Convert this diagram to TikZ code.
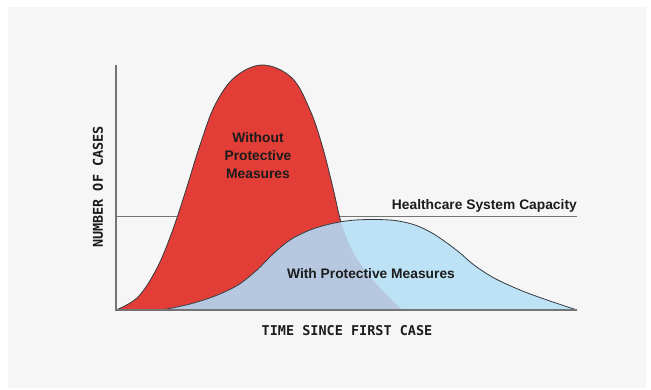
\documentclass[tikz,border=0pt]{standalone}
\usepackage{fontspec}
\setmainfont{Liberation Sans}
\newfontfamily\monofont{DejaVu Sans Mono}
\definecolor{bggray}{HTML}{F6F6F6}
\definecolor{fillred}{HTML}{E23E37}
\definecolor{fillblue}{HTML}{BDE2F6}
\definecolor{overlap}{HTML}{B6C8E0}
\definecolor{linegray}{HTML}{747474}
\definecolor{outline}{HTML}{343a40}
\definecolor{ink}{HTML}{1C1C1C}
\begin{document}
\begin{tikzpicture}
[x=1pt,y=-1pt,
 axisline/.style={draw=linegray,line width=1.3pt},
 curveline/.style={draw=outline,line width=0.8pt,line join=round},
 curvetext/.style={text=ink,font=\bfseries\fontsize{13.8}{18}\selectfont,align=center,inner sep=0pt},
 axistext/.style={text=ink,font=\monofont\bfseries\fontsize{13.5}{16}\selectfont,inner sep=0pt}]

%%
%%%The two curves
\def\redcurve{plot[smooth,tension=0.6] coordinates {(116,310) (138,297) (157,268) (172,232) (186,190) (200,145) (215,105) (235,77) (263,65) (292,78) (310,110) (322,145) (333,188) (341,222) (352,250) (367,273) (385,293) (402,310)}}
\def\bluecurve{plot[smooth,tension=0.55] coordinates {(162,310) (190,304) (215,296) (238,285) (257,270) (273,254) (290,240) (310,230) (330,224) (350,220.5) (372,219.5) (395,220.5) (415,225) (432,233) (447,243) (460,253) (474,265) (494,278) (520,290) (547,300) (577,310)}}
%%

\useasboundingbox (0,0) rectangle (651,390);
\fill[white] (0,0) rectangle (651,390);
\fill[bggray] (8,7) rectangle (646,388);

% the coordinates of the axes
\coordinate (O) at (116,310);
\coordinate (Y) at (116,65);
\coordinate (X) at (577,310);
\coordinate (C1) at (116,216.7);
\coordinate (C2) at (577,216.7);

% the capacity line
\draw[axisline] (C1) -- (C2);

% the curves
\fill[fillred] \redcurve -- cycle;
\draw[curveline] \redcurve;
\fill[fillblue] \bluecurve -- cycle;
\begin{scope}
\clip \bluecurve -- cycle;
\fill[overlap] \redcurve -- cycle;
\end{scope}
\draw[curveline] \bluecurve;

% the axes
\draw[axisline] (Y) -- (O) -- (X);

% labelling
\node[curvetext] (without) at (258,156) {Without\\Protective\\Measures};
\node[curvetext] (with) at (371,274) {With Protective Measures};
\node[curvetext,anchor=base east] (capacity) at (577,210) {Healthcare System Capacity};
\node[axistext] (time) at (347,331) {TIME SINCE FIRST CASE};
\node[axistext,rotate=90] (cases) at (98,187) {NUMBER OF CASES};

\end{tikzpicture}
\end{document}
